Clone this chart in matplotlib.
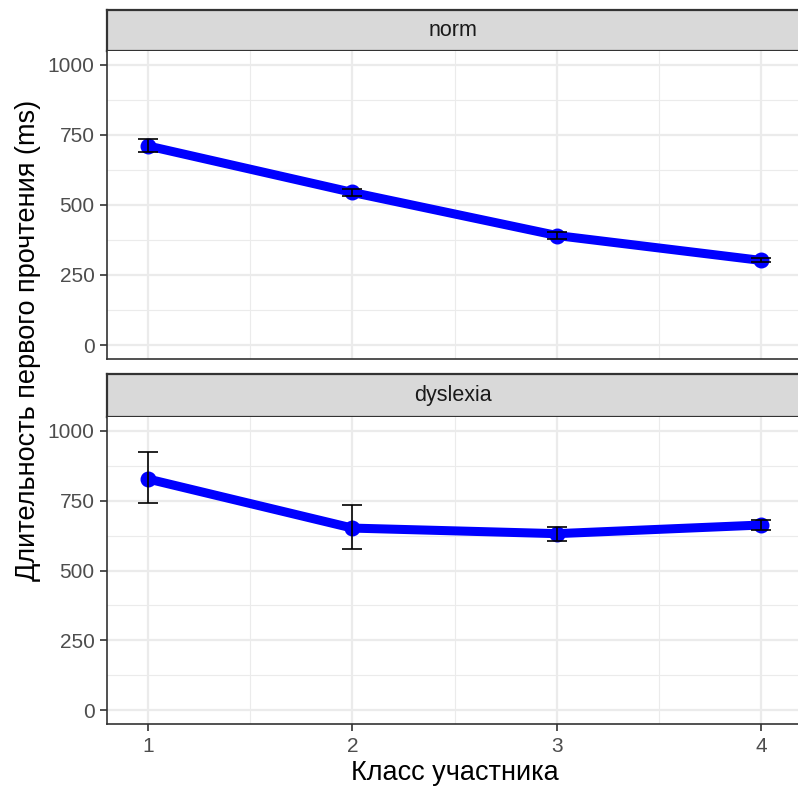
import numpy as np
import matplotlib
matplotlib.use("Agg")
import matplotlib.pyplot as plt
from matplotlib.ticker import MultipleLocator

plt.rcParams["font.family"] = ["Liberation Sans", "DejaVu Sans"]

# mean first-reading duration by grade, with error bar bounds
grades = [1, 2, 3, 4]
groups = ["norm", "dyslexia"]
means = {
    "norm": [711, 545, 391, 302],
    "dyslexia": [828, 652, 632, 663],
}
lower = {
    "norm": [690, 531, 379, 296],
    "dyslexia": [741, 576, 606, 644],
}
upper = {
    "norm": [735, 558, 404, 309],
    "dyslexia": [925, 735, 657, 682],
}

W, H = 798, 789
fig = plt.figure(figsize=(W / 100, H / 100), dpi=100)

left = 107 / W
width = 1 - left
# (strip top, panel top, panel bottom) in pixels from top
panels = [(10, 51, 359), (374, 417, 724)]

dark = "#333333"
tick_col = "#4D4D4D"

for i, (g, (st, pt, pb)) in enumerate(zip(groups, panels)):
    # strip
    sax = fig.add_axes([left, 1 - pt / H, width, (pt - st) / H])
    sax.set_facecolor("#D9D9D9")
    sax.set_xticks([])
    sax.set_yticks([])
    for s in sax.spines.values():
        s.set_color(dark)
        s.set_linewidth(1.6)
    sax.spines["right"].set_visible(False)
    sax.text(0.5, 0.5, g, ha="center", va="center", fontsize=15.5,
             color="#1A1A1A", transform=sax.transAxes)

    ax = fig.add_axes([left, 1 - pb / H, width, (pb - pt) / H])
    ax.set_xlim(0.8, 4.18)
    ax.set_ylim(-50, 1050)
    ax.yaxis.set_major_locator(MultipleLocator(250))
    ax.yaxis.set_minor_locator(MultipleLocator(125))
    ax.xaxis.set_major_locator(MultipleLocator(1))
    ax.xaxis.set_minor_locator(MultipleLocator(0.5))
    ax.grid(which="major", color="#EBEBEB", linewidth=1.6)
    ax.grid(which="minor", color="#EBEBEB", linewidth=0.8)
    ax.set_axisbelow(True)
    for s in ax.spines.values():
        s.set_color(dark)
        s.set_linewidth(1.2)
    ax.spines["right"].set_visible(False)
    ax.spines["top"].set_visible(False)
    ax.tick_params(which="major", length=5, width=1.2, color=dark,
                   labelsize=15, labelcolor=tick_col, pad=4)
    ax.tick_params(which="minor", length=0)
    if i == 0:
        ax.tick_params(axis="x", labelbottom=False, length=0)

    m = np.array(means[g])
    lo = np.array(lower[g])
    hi = np.array(upper[g])
    ax.plot(grades, m, color="#0000FF", linewidth=6.5, solid_capstyle="butt",
            zorder=3)
    ax.scatter(grades, m, s=110, color="#0000FF", zorder=4)
    ax.errorbar(grades, m, yerr=[m - lo, hi - m], fmt="none", ecolor="black",
                elinewidth=1.2, capsize=7, capthick=1.2, zorder=5)

fig.text(28 / W, 1 - 340 / H, "Длительность первого прочтения (ms)",
         rotation=90, ha="center", va="center", fontsize=19.5)
fig.text((761 + 148) / 2 / W, 1 - 773 / H, "Класс участника",
         ha="center", va="center", fontsize=19.5)

fig.savefig("out.png", dpi=100)
